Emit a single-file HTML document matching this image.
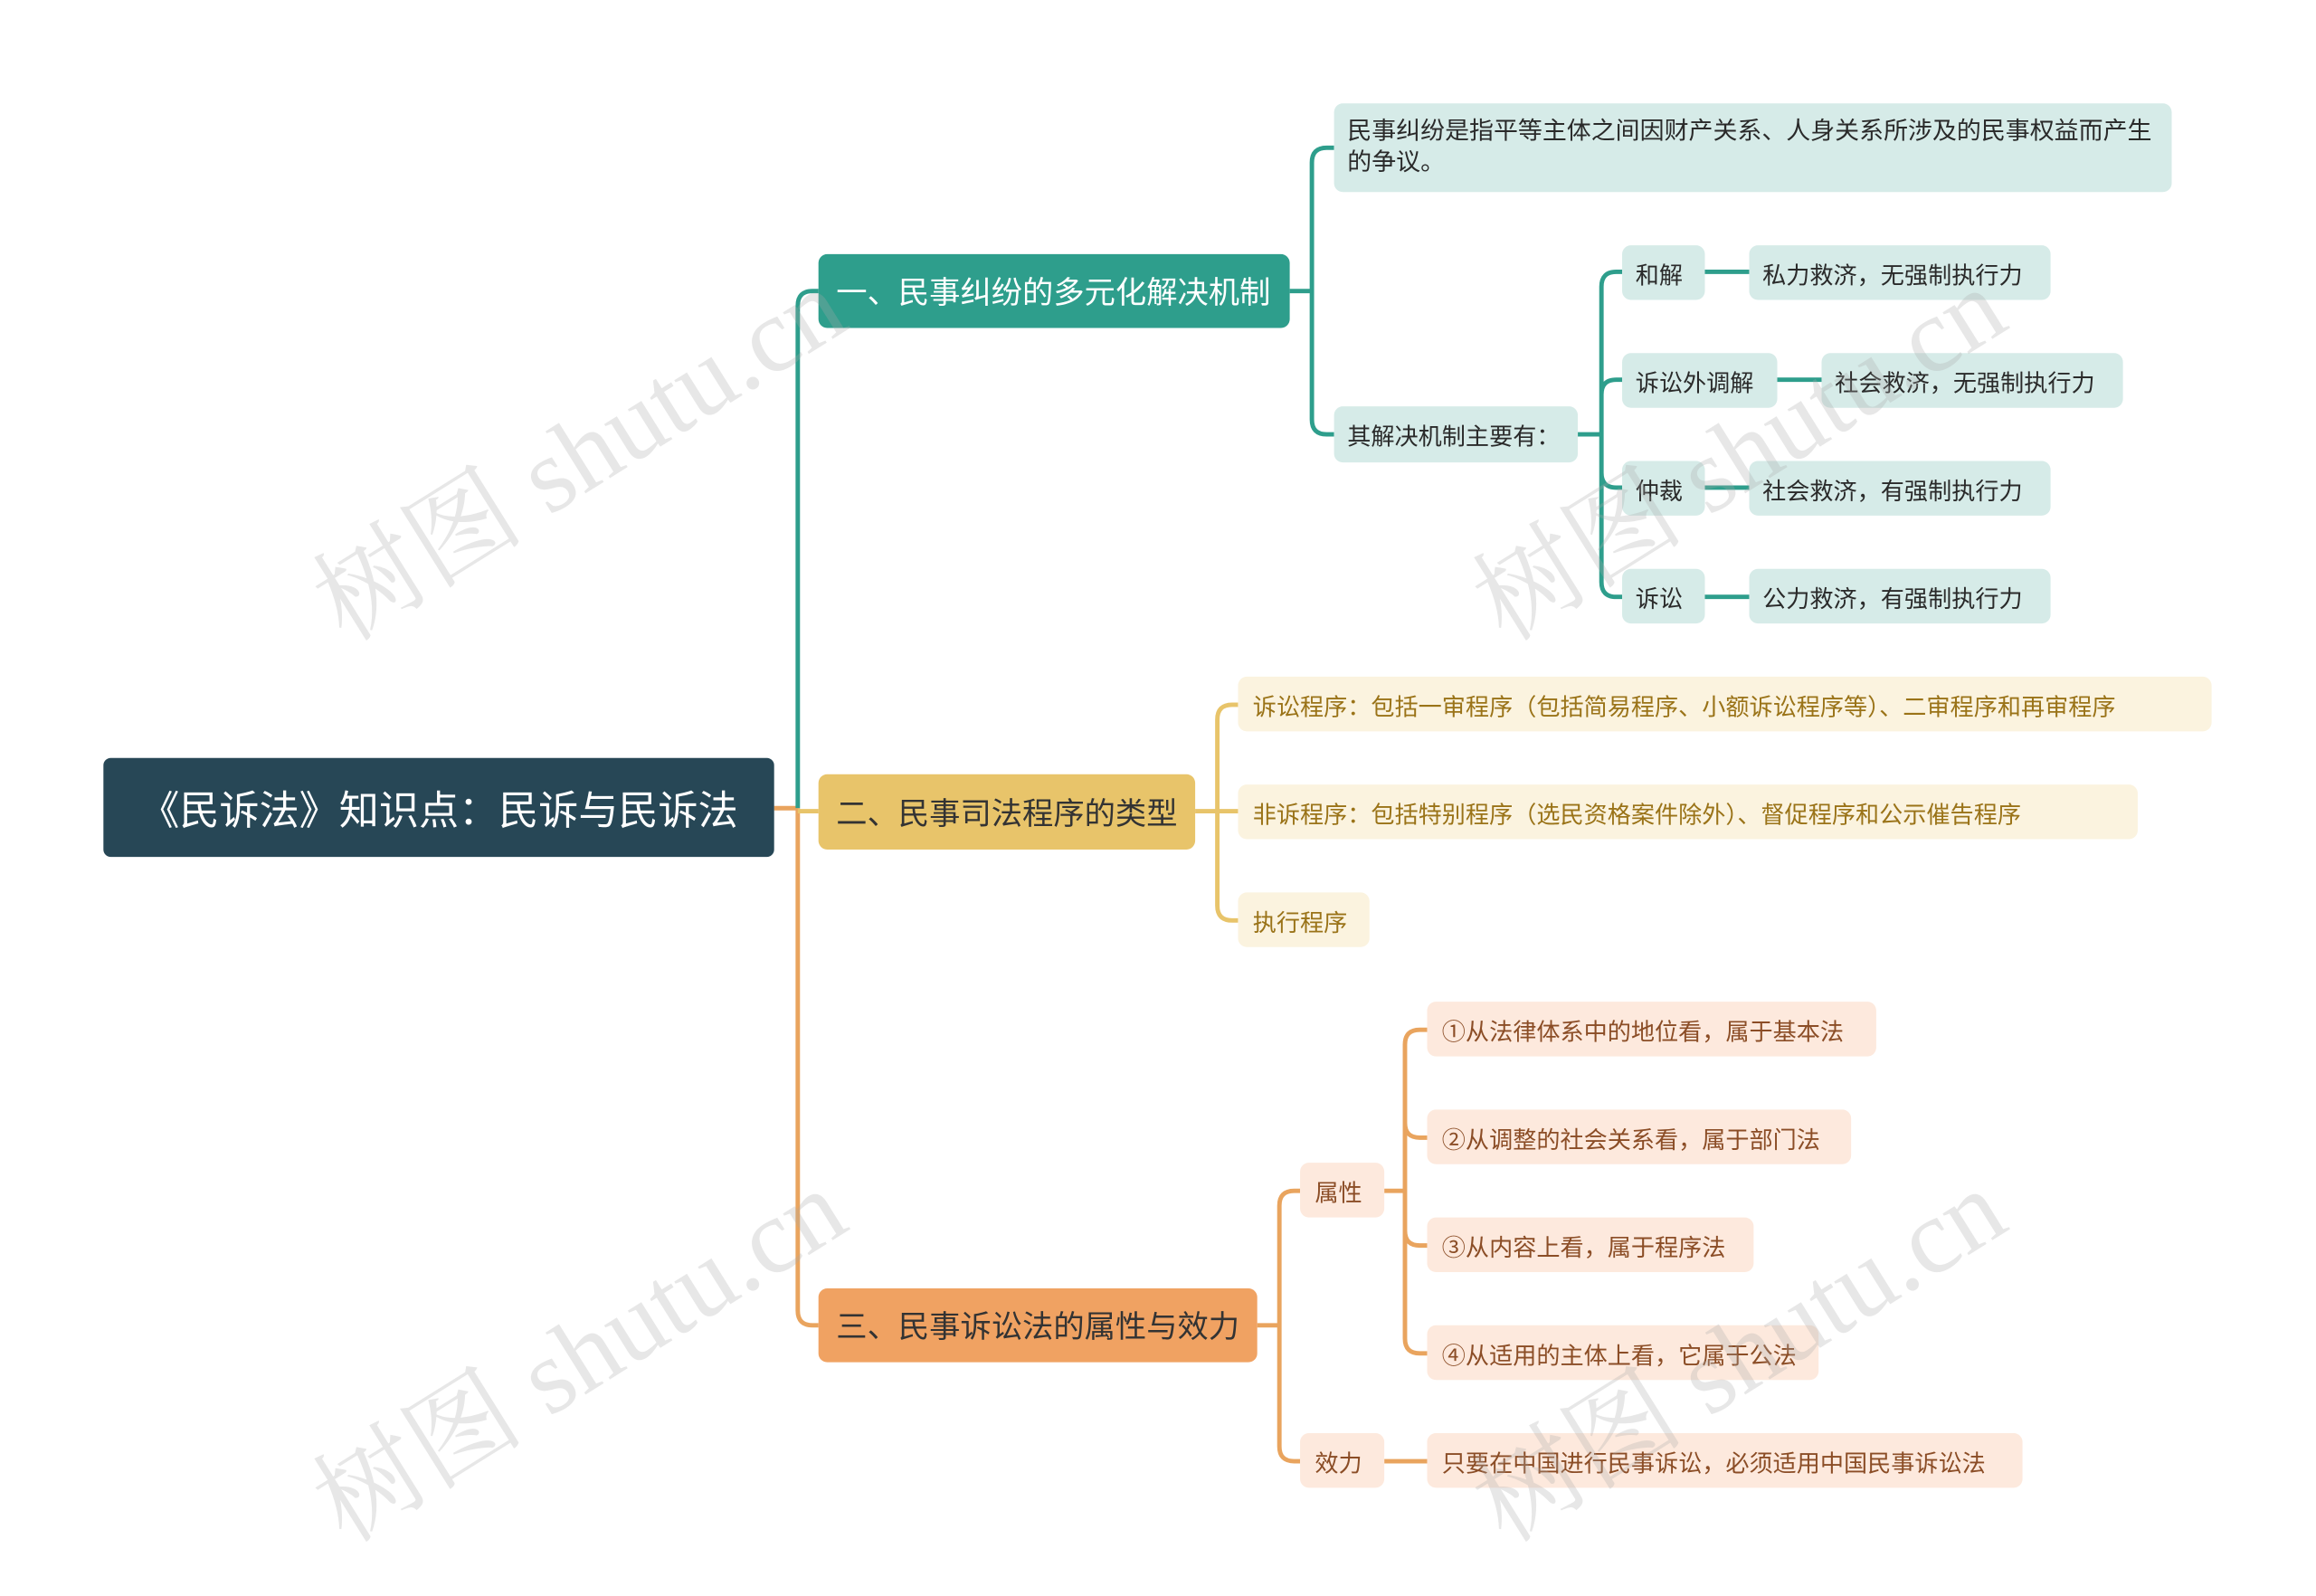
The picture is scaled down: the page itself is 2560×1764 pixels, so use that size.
<!DOCTYPE html>
<html><head><meta charset="utf-8">
<style>
html,body{margin:0;padding:0;background:#fff;}
body{width:2560px;height:1760px;overflow:hidden;position:relative;}
#w{position:absolute;left:0;top:0;width:1570px;height:1080px;transform:scale(1.633);transform-origin:0 0;font-family:"Liberation Sans","Noto Sans CJK SC",sans-serif;}
.n{position:absolute;box-sizing:border-box;border-radius:6px;display:flex;align-items:center;white-space:nowrap;}
.r{background:#274756;color:#fff;font-size:27px;justify-content:center;border-radius:5px;}
.b{font-size:21px;padding-left:12px;border-radius:6px;}
.t{background:#d6ebe8;color:#2a2a2a;font-size:16px;padding-left:9px;}
.y{background:#fbf3df;color:#9a7318;font-size:16px;padding-left:10px;}
.o{background:#fde9dd;color:#8b4d26;font-size:16px;padding-left:10px;}
.wm{position:absolute;color:rgba(170,170,170,0.28);font-family:"Liberation Serif","Noto Serif CJK SC",serif;font-size:72px;transform:rotate(-32deg);transform-origin:0 0;white-space:nowrap;}
svg{position:absolute;left:0;top:0;}
</style></head><body><div id="w">
<svg width="1570" height="1080" fill="none" stroke-width="3">
<path d="M524 547 H540" stroke="#e9a45e"/>
<path d="M540 547 V207 Q540 197 550 197 H554" stroke="#2e9e8c"/>
<path d="M540 547 V887 Q540 897 550 897 H554" stroke="#e9a45e"/>
<path d="M540 549 H554" stroke="#e8c46a"/>
<path d="M873 197 H888 M888 197 V110 Q888 100 898 100 H903 M888 197 V284 Q888 294 898 294 H903" stroke="#2e9e8c"/>
<path d="M1068 294 H1084 M1084 294 V194 Q1084 184 1094 184 H1098 M1084 294 V267 Q1084 257 1094 257 H1098 M1084 294 V320 Q1084 330 1094 330 H1098 M1084 294 V394 Q1084 404 1094 404 H1098" stroke="#2e9e8c"/>
<path d="M1154 184 H1184 M1203 257 H1233 M1154 330 H1184 M1154 404 H1184" stroke="#2e9e8c"/>
<path d="M809 549 H824 M824 549 V487 Q824 477 834 477 H838 M824 549 H838 M824 549 V613 Q824 623 834 623 H838" stroke="#e8c46a"/>
<path d="M851 897 H866 M866 897 V816 Q866 806 876 806 H880 M866 897 V979 Q866 989 876 989 H880" stroke="#e9a45e"/>
<path d="M937 806 H951 M951 806 V707 Q951 697 961 697 H966 M951 806 V760 Q951 770 961 770 H966 M951 806 V833 Q951 843 961 843 H966 M951 806 V906 Q951 916 961 916 H966 M937 989 H966" stroke="#e9a45e"/>
</svg>
<div class="n r" style="left:70px;top:513px;width:454px;height:67px;">《民诉法》知识点：民诉与民诉法</div>
<div class="n b" style="left:554px;top:172px;width:319px;height:50px;background:#2e9e8c;color:#fff;">一、民事纠纷的多元化解决机制</div>
<div class="n b" style="left:554px;top:524px;width:255px;height:51px;background:#e8c46a;color:#333;">二、民事司法程序的类型</div>
<div class="n b" style="left:554px;top:872px;width:297px;height:50px;background:#f0a262;color:#333;">三、民事诉讼法的属性与效力</div>
<div class="n t" style="left:903px;top:70px;width:567px;height:60px;white-space:normal;line-height:21px;padding-right:10px;font-size:16.5px;">民事纠纷是指平等主体之间因财产关系、人身关系所涉及的民事权益而产生的争议。</div>
<div class="n t" style="left:903px;top:275px;width:165px;height:38px;">其解决机制主要有：</div>
<div class="n t" style="left:1098px;top:166px;width:56px;height:37px;">和解</div>
<div class="n t" style="left:1184px;top:166px;width:204px;height:37px;">私力救济，无强制执行力</div>
<div class="n t" style="left:1098px;top:239px;width:105px;height:37px;">诉讼外调解</div>
<div class="n t" style="left:1233px;top:239px;width:204px;height:37px;">社会救济，无强制执行力</div>
<div class="n t" style="left:1098px;top:312px;width:56px;height:37px;">仲裁</div>
<div class="n t" style="left:1184px;top:312px;width:204px;height:37px;">社会救济，有强制执行力</div>
<div class="n t" style="left:1098px;top:385px;width:56px;height:37px;">诉讼</div>
<div class="n t" style="left:1184px;top:385px;width:204px;height:37px;">公力救济，有强制执行力</div>
<div class="n y" style="left:838px;top:458px;width:659px;height:37px;">诉讼程序：包括一审程序（包括简易程序、小额诉讼程序等）、二审程序和再审程序</div>
<div class="n y" style="left:838px;top:531px;width:609px;height:37px;">非诉程序：包括特别程序（选民资格案件除外）、督促程序和公示催告程序</div>
<div class="n y" style="left:838px;top:604px;width:89px;height:37px;">执行程序</div>
<div class="n o" style="left:880px;top:787px;width:57px;height:37px;">属性</div>
<div class="n o" style="left:880px;top:970px;width:57px;height:37px;">效力</div>
<div class="n o" style="left:966px;top:678px;width:304px;height:37px;">①从法律体系中的地位看，属于基本法</div>
<div class="n o" style="left:966px;top:751px;width:287px;height:37px;">②从调整的社会关系看，属于部门法</div>
<div class="n o" style="left:966px;top:824px;width:221px;height:37px;">③从内容上看，属于程序法</div>
<div class="n o" style="left:966px;top:897px;width:265px;height:37px;">④从适用的主体上看，它属于公法</div>
<div class="n o" style="left:966px;top:970px;width:403px;height:37px;">只要在中国进行民事诉讼，必须适用中国民事诉讼法</div>
<div class="wm" style="left:190px;top:365px;">树图 shutu.cn</div>
<div class="wm" style="left:975px;top:365px;">树图 shutu.cn</div>
<div class="wm" style="left:190px;top:975px;">树图 shutu.cn</div>
<div class="wm" style="left:975px;top:975px;">树图 shutu.cn</div>
</div></body></html>
